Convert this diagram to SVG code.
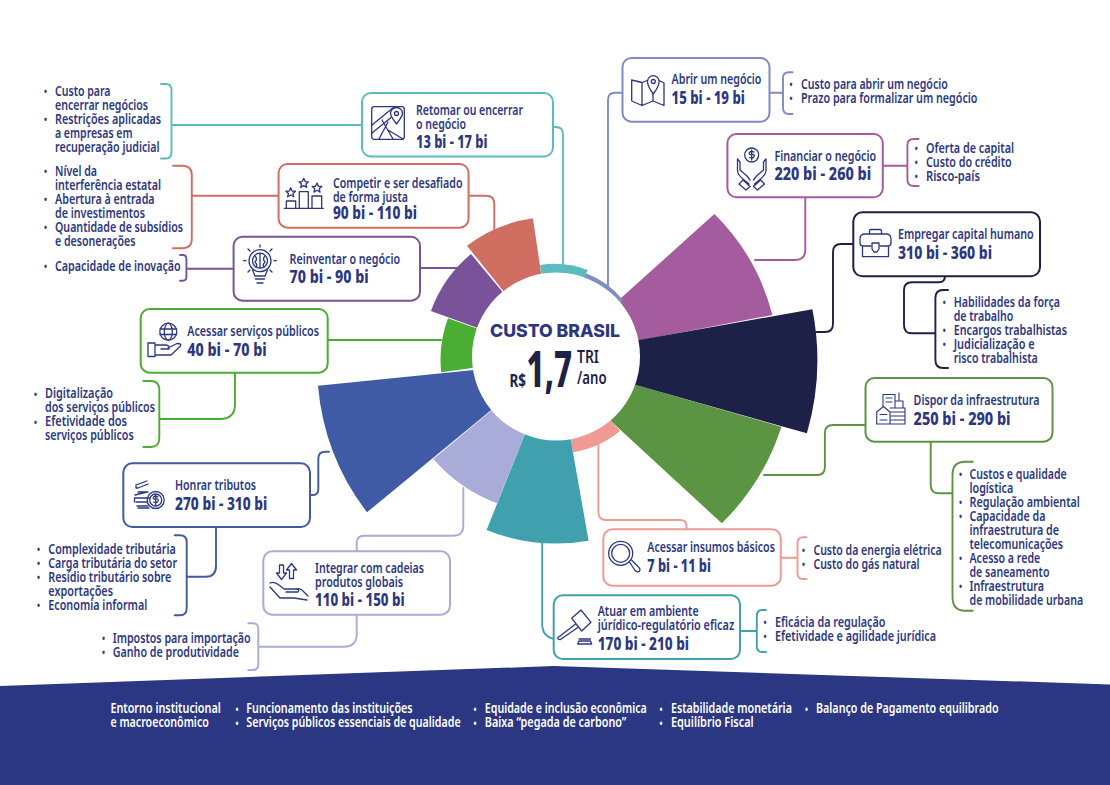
<svg xmlns="http://www.w3.org/2000/svg" width="1110" height="785" viewBox="0 0 1110 785">
<style>
text{font-family:"Noto Sans","Liberation Sans",sans-serif;fill:#2c3783;font-size:14px;font-weight:600}
.v{font-size:18px;font-weight:800}
.b{font-size:10px;font-weight:700}
.f{fill:#fff}
.box{fill:#fff;stroke-width:2}
.c{fill:none;stroke-width:1.9;stroke-linecap:round;stroke-linejoin:round}
.i{fill:none;stroke:#2c3783;stroke-width:1.3;stroke-linejoin:round;stroke-linecap:round}
.d{fill:#1e2147}
</style>
<path d="M0 686L554 666L1110 684.5V785H0Z" fill="#2c3783"/>
<g id="connectors" class="c">
<g stroke="#5bbcc0"><path d="M161 84H166Q171.5 84 171.5 90V152Q171.5 158.5 166 158.5H161M171.5 125H362"/><path d="M553 127H556Q563 127 563 134V266"/></g>
<g stroke="#d16e62"><path d="M173 165.7H182Q191.8 165.7 191.8 175V239Q191.8 248.3 182 248.3H173M191.8 195.7H279"/><path d="M468 195.7H486Q494.3 195.7 494.3 204V232"/></g>
<g stroke="#7a5299"><path d="M180 255H183Q186.4 255 186.4 259V276.5Q186.4 280.7 183 280.7H180M186.4 268.7H234"/><path d="M420 268H462"/></g>
<g stroke="#7f8cc4"><path d="M622 92.7H615Q608 92.7 608 100V288"/><path d="M769 92.7H783M792.6 72.3H789Q783 72.3 783 78V108Q783 114 789 114H792.6"/></g>
<g stroke="#a45c9f"><path d="M883 165.7H907.4M918.6 139H914Q907.4 139 907.4 145V180Q907.4 186 914 186H918.6"/><path d="M805.3 197V250Q805.3 260 795 260H755"/></g>
<g stroke="#1e2147"><path d="M853 244H841Q833 244 833 252V324Q833 332 825 332H816"/><path d="M945 276Q945 282.3 939 282.3H912Q904 282.3 904 290V325Q904 333.3 912 333.3H935.4M948 290H943Q935.4 290 935.4 298V360Q935.4 368 943 368H948"/></g>
<g stroke="#4bad33"><path d="M328 340H441"/><path d="M235 372V404Q235 419 220 419H159.3M143.3 381H151Q159.3 381 159.3 390V438Q159.3 447 151 447H143.3"/></g>
<g stroke="#3f5ba5"><path d="M310 495H313Q318.3 495 318.3 489V459Q318.3 451.7 325 451.7H329"/><path d="M216 527V566Q216 576.7 206 576.7H186.7M174.7 535.3H180Q186.7 535.3 186.7 542V608Q186.7 615.3 180 615.3H174.7"/></g>
<g stroke="#a9acd8"><path d="M356.7 551V543Q356.7 535.7 364 535.7H453Q463.3 535.7 463.3 526V488"/><path d="M356.7 614.7V634Q356.7 646.7 344 646.7H258.3M248.3 623.3H253Q258.3 623.3 258.3 629V664Q258.3 670 253 670H248.3"/></g>
<g stroke="#5b9442"><path d="M865 425H833Q824.9 425 824.9 433V467Q824.9 475 817 475H764"/><path d="M930.7 441.7V485Q930.7 493.3 939 493.3H952.5M972.8 461.7H965Q952.5 461.7 952.5 475V597Q952.5 610.7 965 610.7H972.8"/></g>
<g stroke="#ef9b93"><path d="M686.5 529V526Q686.5 520 680 520H606Q598.4 520 598.4 512V445"/><path d="M781 557.7H797.5M806.7 537.3H803Q797.5 537.3 797.5 543V573Q797.5 579 803 579H806.7"/></g>
<g stroke="#40a0ae"><path d="M542.2 538V624Q542.2 637 555 639"/><path d="M740 631H756.8M766 610H762Q756.8 610 756.8 616V646Q756.8 652 762 652H766"/></g>
</g>
<g id="chart">
<path d="M556 356.5L714.4 214A218 218 0 0 1 772.4 315Z" fill="#a45c9f"/>
<path d="M556 356.5L611.6 421.7L721.8 523.3A236 236 0 0 0 781.4 426.7L636 385Z" fill="#5b9442"/>
<path d="M556 356.5L639 340L812.4 309.3A263 263 0 0 1 806.9 433.3L635.8 385Z" fill="#1e2147"/>
<path d="M556 356.5L611.6 421.7L620.2 430.7A98 98 0 0 1 573 452.3Z" fill="#ef9b93"/>
<path d="M556 356.5L497 503.3A158 158 0 0 1 433.3 459Z" fill="#a9acd8"/>
<path d="M556 356.5L588.6 540.7A187 187 0 0 1 486.6 530Z" fill="#40a0ae"/>
<path d="M556 356.5L441.2 372.3A118 118 0 0 1 448 318.3Z" fill="#4bad33"/>
<path d="M556 356.5L367 512.3A243 243 0 0 1 318 385.7L473.9 370Z" fill="#3f5ba5"/>
<path d="M556 356.5L430.9 311A133 133 0 0 1 471 254Z" fill="#7a5299"/>
<path d="M556 356.5L623 300A87.6 87.6 0 0 0 585.8 273.3Z" fill="#7f8cc4"/>
<path d="M556 356.5L467 245.7A142 142 0 0 1 532.9 218.3L541 272.3Z" fill="#d16e62"/>
<path d="M556 356.5L540 265A93 93 0 0 1 587.5 270Z" fill="#5bbcc0"/>
<circle cx="556" cy="356.5" r="84" fill="#fff"/>
<text x="490" y="336.7" textLength="130" lengthAdjust="spacingAndGlyphs" style="font-family:Inter,'Liberation Sans',sans-serif;font-size:17.5px;font-weight:800">CUSTO BRASIL</text>
<text transform="translate(509.4 0) scale(.7 1)" x="0" y="387.3" textLength="23.6" lengthAdjust="spacingAndGlyphs" class="d" style="font-size:17px;font-weight:700">R$</text>
<text transform="translate(526.6 0) scale(.65 1)" x="0" y="386.7" textLength="70" lengthAdjust="spacingAndGlyphs" class="d" style="font-size:50px;font-weight:800">1,7</text>
<text transform="translate(577 0) scale(.8 1)" class="d" style="font-size:18px;font-weight:600"><tspan x="0" y="362.7" textLength="27.5" lengthAdjust="spacingAndGlyphs">TRI</tspan><tspan x="0" y="384" textLength="36.9" lengthAdjust="spacingAndGlyphs">/ano</tspan></text>
</g>
<g id="node-retomar">
<rect class="box" x="362" y="93" width="191" height="63.5" rx="9" stroke="#5bbcc0"/>
<g class="i"><rect x="371.7" y="106.7" width="32.6" height="32.6" rx="2.5"/><path d="M372 125L394 107M372 133L399 111M379 139L388 122M393 139L382 120M388 130L403 139"/><path d="M396.5 124C392 118 390.5 116 390.5 113.5A6 6 0 0 1 402.5 113.5C402.5 116 401 118 396.5 124Z" fill="#fff"/><circle cx="396.5" cy="113.5" r="2"/></g>
<text transform="translate(416 0) scale(.8 1)"><tspan x="0" y="115" textLength="133.75" lengthAdjust="spacingAndGlyphs">Retomar ou encerrar</tspan><tspan x="0" y="129" textLength="62.5" lengthAdjust="spacingAndGlyphs">o negócio</tspan><tspan class="v" x="0" y="147.7" textLength="89.4" lengthAdjust="spacingAndGlyphs">13 bi - 17 bi</tspan></text>
<text transform="translate(55 0) scale(.8 1)"><tspan class="b" x="-13.75" y="95">•</tspan><tspan x="0" y="95.7" textLength="69.4" lengthAdjust="spacingAndGlyphs">Custo para</tspan><tspan x="0" y="109.7" textLength="116.25" lengthAdjust="spacingAndGlyphs">encerrar negócios</tspan><tspan class="b" x="-13.75" y="123">•</tspan><tspan x="0" y="123.7" textLength="132.5" lengthAdjust="spacingAndGlyphs">Restrições aplicadas</tspan><tspan x="0" y="137.7" textLength="96.9" lengthAdjust="spacingAndGlyphs">a empresas em</tspan><tspan x="0" y="151.7" textLength="130.75" lengthAdjust="spacingAndGlyphs">recuperação judicial</tspan></text>
</g>
<g id="node-competir">
<rect class="box" x="278.6" y="164" width="190" height="63.7" rx="9" stroke="#d16e62"/>
<g class="i"><path d="M284.3 208.3H323.3M286.3 208V201H295.7V208M299.3 208V191.7H308.3V208M312 208V196H321.7V208"/><path d="M290.7 187.7L292.1 191L295.5 191.2L292.9 193.4L293.8 196.8L290.7 195L287.6 196.8L288.5 193.4L285.9 191.2L289.3 191Z"/><path d="M303.7 178.3L305.1 181.6L308.5 181.8L305.9 184L306.8 187.4L303.7 185.6L300.6 187.4L301.5 184L298.9 181.8L302.3 181.6Z"/><path d="M317 183L318.4 186.3L321.8 186.5L319.2 188.7L320.1 192.1L317 190.3L313.9 192.1L314.8 188.7L312.2 186.5L315.6 186.3Z"/></g>
<text transform="translate(332.9 0) scale(.8 1)"><tspan x="0" y="188" textLength="162" lengthAdjust="spacingAndGlyphs">Competir e ser desafiado</tspan><tspan x="0" y="202" textLength="93.75" lengthAdjust="spacingAndGlyphs">de forma justa</tspan><tspan class="v" x="0" y="218.7" textLength="105" lengthAdjust="spacingAndGlyphs">90 bi - 110 bi</tspan></text>
<text transform="translate(55 0) scale(.8 1)"><tspan class="b" x="-13.75" y="175">•</tspan><tspan x="0" y="175.7" textLength="52.5" lengthAdjust="spacingAndGlyphs">Nível da</tspan><tspan x="0" y="189.7" textLength="132.5" lengthAdjust="spacingAndGlyphs">interferência estatal</tspan><tspan class="b" x="-13.75" y="203">•</tspan><tspan x="0" y="203.7" textLength="124.5" lengthAdjust="spacingAndGlyphs">Abertura à entrada</tspan><tspan x="0" y="217.7" textLength="112.5" lengthAdjust="spacingAndGlyphs">de investimentos</tspan><tspan class="b" x="-13.75" y="231">•</tspan><tspan x="0" y="231.7" textLength="160" lengthAdjust="spacingAndGlyphs">Quantidade de subsídios</tspan><tspan x="0" y="245.7" textLength="100.5" lengthAdjust="spacingAndGlyphs">e desonerações</tspan></text>
</g>
<g id="node-reinventar">
<rect class="box" x="233.6" y="236.7" width="186.4" height="64" rx="9" stroke="#7a5299"/>
<g class="i"><circle cx="260" cy="260.7" r="11"/><circle cx="260" cy="260.7" r="7.5"/><path d="M260 253.5V268M255 256Q258 259 255 262Q258 265 256 267M265 256Q262 259 265 262Q262 265 264 267M252.5 270L255 276H265L267.5 270M255.5 279H264.5M257 283H263"/><path d="M260 245V247M248 249L250 251M272 249L270 251M243.5 260.7H246M274 260.7H276.5M248 272L250 270M272 272L270 270"/></g>
<text transform="translate(289.6 0) scale(.8 1)"><tspan x="0" y="264" textLength="138" lengthAdjust="spacingAndGlyphs">Reinventar o negócio</tspan><tspan class="v" x="0" y="283.3" textLength="98.75" lengthAdjust="spacingAndGlyphs">70 bi - 90 bi</tspan></text>
<text transform="translate(55 0) scale(.8 1)"><tspan class="b" x="-13.75" y="270">•</tspan><tspan x="0" y="270.7" textLength="157.1" lengthAdjust="spacingAndGlyphs">Capacidade de inovação</tspan></text>
</g>
<g id="node-abrir">
<rect class="box" x="622.5" y="58" width="147" height="63.7" rx="9" stroke="#7f8cc4"/>
<g class="i"><path d="M631.7 80V101L642 105.5L653 101L664 105.5V83L659 80.5M647 80.5L642 82.5L631.7 80M642 82.5V105.5M653 92V101"/><path d="M653.3 94C648 87 647.5 84 647.5 81.5A5.8 5.8 0 0 1 659.1 81.5C659.1 84 658.5 87 653.3 94Z" fill="#fff"/><circle cx="653.3" cy="81.5" r="2"/></g>
<text transform="translate(671.6 0) scale(.8 1)"><tspan x="0" y="84.3" textLength="112.25" lengthAdjust="spacingAndGlyphs">Abrir um negócio</tspan><tspan class="v" x="0" y="104" textLength="91.6" lengthAdjust="spacingAndGlyphs">15 bi - 19 bi</tspan></text>
<text transform="translate(801 0) scale(.8 1)"><tspan class="b" x="-14.4" y="88">•</tspan><tspan x="0" y="89" textLength="183.4" lengthAdjust="spacingAndGlyphs">Custo para abrir um negócio</tspan><tspan class="b" x="-14.4" y="102">•</tspan><tspan x="0" y="103" textLength="220.6" lengthAdjust="spacingAndGlyphs">Prazo para formalizar um negócio</tspan></text>
</g>
<g id="node-financiar">
<rect class="box" x="727.4" y="134" width="155.4" height="63.3" rx="9" stroke="#a45c9f"/>
<g class="i"><circle cx="751.7" cy="155" r="7"/><path d="M749.5 157.5Q753 159 754 156.5T751.7 154.5T749.5 152.5Q751 150.5 754 152M751.7 150V160M737.5 159V171Q738 175 743 179L749 184M737.5 159L740 162V170L747 176L750 180M766 159V171Q765.5 175 760.5 179L754.5 184M766 159L763.5 162V170L756.5 176L753.5 180M743 180L750 186.5L746 190L739 184ZM760.5 180L753.5 186.5L757.5 190L764.5 184Z"/></g>
<text transform="translate(774.4 0) scale(.8 1)"><tspan x="0" y="160.7" textLength="127.1" lengthAdjust="spacingAndGlyphs">Financiar o negócio</tspan><tspan class="v" x="0" y="180.3" textLength="121" lengthAdjust="spacingAndGlyphs">220 bi - 260 bi</tspan></text>
<text transform="translate(926 0) scale(.8 1)"><tspan class="b" x="-14" y="152">•</tspan><tspan x="0" y="152.7" textLength="110" lengthAdjust="spacingAndGlyphs">Oferta de capital</tspan><tspan class="b" x="-14" y="166">•</tspan><tspan x="0" y="166.7" textLength="107" lengthAdjust="spacingAndGlyphs">Custo do crédito</tspan><tspan class="b" x="-14" y="180">•</tspan><tspan x="0" y="180.7" textLength="67.5" lengthAdjust="spacingAndGlyphs">Risco-país</tspan></text>
</g>
<g id="node-empregar">
<rect class="box" x="853.3" y="212.3" width="186.7" height="64" rx="9" stroke="#1e2147"/>
<g class="i"><path d="M860 239Q860 234 865 234H886Q891 234 891 239V243Q891 246 888 246H880M860 239V243Q860 246 863 246H871M862.5 246V256.7H888.5V246M869.5 234V231Q869.5 229.5 871 229.5H880Q881.5 229.5 881.5 231V234"/><path d="M872 243H879V249L877 252H874L872 249Z"/></g>
<text transform="translate(898 0) scale(.8 1)"><tspan x="0" y="239.3" textLength="169.6" lengthAdjust="spacingAndGlyphs">Empregar capital humano</tspan><tspan class="v" x="0" y="259" textLength="117.5" lengthAdjust="spacingAndGlyphs">310 bi - 360 bi</tspan></text>
<text transform="translate(953.7 0) scale(.8 1)"><tspan class="b" x="-13.6" y="306">•</tspan><tspan x="0" y="306.7" textLength="132.9" lengthAdjust="spacingAndGlyphs">Habilidades da força</tspan><tspan x="0" y="320.7" textLength="74.5" lengthAdjust="spacingAndGlyphs">de trabalho</tspan><tspan class="b" x="-13.6" y="334">•</tspan><tspan x="0" y="334.7" textLength="141.6" lengthAdjust="spacingAndGlyphs">Encargos trabalhistas</tspan><tspan class="b" x="-13.6" y="348">•</tspan><tspan x="0" y="348.7" textLength="101.25" lengthAdjust="spacingAndGlyphs">Judicialização e</tspan><tspan x="0" y="362.7" textLength="105" lengthAdjust="spacingAndGlyphs">risco trabalhista</tspan></text>
</g>
<g id="node-acessar-servicos">
<rect class="box" x="140.7" y="309" width="187" height="63.7" rx="9" stroke="#4bad33"/>
<g class="i"><circle cx="168.3" cy="331.7" r="8.5"/><ellipse cx="168.3" cy="331.7" rx="4" ry="8.5"/><path d="M160 329H176.6M160 334.5H176.6M148 343H155V356.5H148ZM155 345H165Q170 345 169 349H161M168 348L177 343.5Q182 343.5 180.5 346L171 355H155"/></g>
<text transform="translate(187.3 0) scale(.8 1)"><tspan x="0" y="336" textLength="164.6" lengthAdjust="spacingAndGlyphs">Acessar serviços públicos</tspan><tspan class="v" x="0" y="355.7" textLength="99.25" lengthAdjust="spacingAndGlyphs">40 bi - 70 bi</tspan></text>
<text transform="translate(45 0) scale(.8 1)"><tspan class="b" x="-13.75" y="398">•</tspan><tspan x="0" y="398.3" textLength="85" lengthAdjust="spacingAndGlyphs">Digitalização</tspan><tspan x="0" y="412.3" textLength="137.5" lengthAdjust="spacingAndGlyphs">dos serviços públicos</tspan><tspan class="b" x="-13.75" y="426">•</tspan><tspan x="0" y="426.3" textLength="102.5" lengthAdjust="spacingAndGlyphs">Efetividade dos</tspan><tspan x="0" y="440.3" textLength="110.9" lengthAdjust="spacingAndGlyphs">serviços públicos</tspan></text>
</g>
<g id="node-honrar">
<rect class="box" x="123.3" y="463.3" width="186.7" height="63.7" rx="9" stroke="#3f5ba5"/>
<g class="i"><circle cx="155.7" cy="500" r="8.5"/><circle cx="155.7" cy="500" r="6"/><path d="M135 495L147 492M135 498H150M136 502H147M134.5 498V502M137 506H148M138 488L148 484M136 485L147 481M136 485V488L138 488M138 492H148M138 508H149"/><path d="M153.5 502Q157 503.5 158 501T155.7 499T153.5 497Q155 495.5 158 497M155.7 495V505"/></g>
<text transform="translate(175 0) scale(.8 1)"><tspan x="0" y="490" textLength="101.25" lengthAdjust="spacingAndGlyphs">Honrar tributos</tspan><tspan class="v" x="0" y="509.7" textLength="115.4" lengthAdjust="spacingAndGlyphs">270 bi - 310 bi</tspan></text>
<text transform="translate(48.3 0) scale(.8 1)"><tspan class="b" x="-14.1" y="553">•</tspan><tspan x="0" y="554" textLength="159.25" lengthAdjust="spacingAndGlyphs">Complexidade tributária</tspan><tspan class="b" x="-14.1" y="567">•</tspan><tspan x="0" y="568" textLength="160.9" lengthAdjust="spacingAndGlyphs">Carga tributária do setor</tspan><tspan class="b" x="-14.1" y="581">•</tspan><tspan x="0" y="582" textLength="153.75" lengthAdjust="spacingAndGlyphs">Resídio tributário sobre</tspan><tspan x="0" y="596" textLength="80.9" lengthAdjust="spacingAndGlyphs">exportações</tspan><tspan class="b" x="-14.1" y="609">•</tspan><tspan x="0" y="610" textLength="123.75" lengthAdjust="spacingAndGlyphs">Economia informal</tspan></text>
</g>
<g id="node-integrar">
<rect class="box" x="263.3" y="551.3" width="186.7" height="63.4" rx="9" stroke="#a9acd8"/>
<g class="i"><path d="M279.5 565V573H276.5L281.5 579.5L286.5 573H283.5V565ZM289.5 578.5V570H286.5L291.5 563.5L296.5 570H293.5V578.5Z"/><path d="M270 583Q274 581 279 585L284 589H296Q300 589 298 592H286M296 589.5Q300 587 304 592L308 596M270 587L280 598H294L307 600"/></g>
<text transform="translate(315 0) scale(.8 1)"><tspan x="0" y="572.7" textLength="136.25" lengthAdjust="spacingAndGlyphs">Integrar com cadeias</tspan><tspan x="0" y="586.7" textLength="110" lengthAdjust="spacingAndGlyphs">produtos globais</tspan><tspan class="v" x="0" y="606" textLength="112.1" lengthAdjust="spacingAndGlyphs">110 bi - 150 bi</tspan></text>
<text transform="translate(112.7 0) scale(.8 1)"><tspan class="b" x="-13.4" y="642">•</tspan><tspan x="0" y="642.7" textLength="172.5" lengthAdjust="spacingAndGlyphs">Impostos para importação</tspan><tspan class="b" x="-13.4" y="656">•</tspan><tspan x="0" y="656.7" textLength="157.9" lengthAdjust="spacingAndGlyphs">Ganho de produtividade</tspan></text>
</g>
<g id="node-dispor">
<rect class="box" x="865.5" y="378" width="187" height="63.7" rx="9" stroke="#5b9442"/>
<g class="i" style="stroke-width:1.1"><path d="M883 406V394.5H895V401M876.7 424V412L883.5 406.5L890 412V424ZM876.7 424H905M890 408H905V424M890 412H905M890 416H905M890 420H905M895 408V401H903V408M899 401V393M886 398H892M886 402H892M880 414.5H887M880 420H887"/></g>
<text transform="translate(913.6 0) scale(.8 1)"><tspan x="0" y="405" textLength="157.25" lengthAdjust="spacingAndGlyphs">Dispor da infraestrutura</tspan><tspan class="v" x="0" y="424.7" textLength="121.25" lengthAdjust="spacingAndGlyphs">250 bi - 290 bi</tspan></text>
<text transform="translate(969.5 0) scale(.8 1)"><tspan class="b" x="-13.1" y="478">•</tspan><tspan x="0" y="479" textLength="121.6" lengthAdjust="spacingAndGlyphs">Custos e qualidade</tspan><tspan x="0" y="493" textLength="54.6" lengthAdjust="spacingAndGlyphs">logística</tspan><tspan class="b" x="-13.1" y="506">•</tspan><tspan x="0" y="507" textLength="137.9" lengthAdjust="spacingAndGlyphs">Regulação ambiental</tspan><tspan class="b" x="-13.1" y="520">•</tspan><tspan x="0" y="521" textLength="94.9" lengthAdjust="spacingAndGlyphs">Capacidade da</tspan><tspan x="0" y="535" textLength="111.9" lengthAdjust="spacingAndGlyphs">infraestrutura de</tspan><tspan x="0" y="549" textLength="117" lengthAdjust="spacingAndGlyphs">telecomunicações</tspan><tspan class="b" x="-13.1" y="562">•</tspan><tspan x="0" y="563" textLength="88.4" lengthAdjust="spacingAndGlyphs">Acesso a rede</tspan><tspan x="0" y="577" textLength="99.9" lengthAdjust="spacingAndGlyphs">de saneamento</tspan><tspan class="b" x="-13.1" y="590">•</tspan><tspan x="0" y="591" textLength="93" lengthAdjust="spacingAndGlyphs">Infraestrutura</tspan><tspan x="0" y="605" textLength="142" lengthAdjust="spacingAndGlyphs">de mobilidade urbana</tspan></text>
</g>
<g id="node-insumos">
<rect class="box" x="603.3" y="529.3" width="177.5" height="56.4" rx="9" stroke="#ef9b93"/>
<g class="i"><circle cx="620.7" cy="553.3" r="12"/><circle cx="620.7" cy="553.3" r="9"/><path d="M629.5 562L635 570.5Q638 573 639.5 571Q641 569 638 566.5L631.5 560"/></g>
<text transform="translate(647.3 0) scale(.8 1)"><tspan x="0" y="552.3" textLength="159.5" lengthAdjust="spacingAndGlyphs">Acessar insumos básicos</tspan><tspan class="v" x="0" y="572" textLength="79.5" lengthAdjust="spacingAndGlyphs">7 bi - 11 bi</tspan></text>
<text transform="translate(813.4 0) scale(.8 1)"><tspan class="b" x="-14.25" y="554">•</tspan><tspan x="0" y="555" textLength="160.5" lengthAdjust="spacingAndGlyphs">Custo da energia elétrica</tspan><tspan class="b" x="-14.25" y="568">•</tspan><tspan x="0" y="569" textLength="132.75" lengthAdjust="spacingAndGlyphs">Custo do gás natural</tspan></text>
</g>
<g id="node-atuar">
<rect class="box" x="553.7" y="595.3" width="186.3" height="63.7" rx="9" stroke="#40a0ae"/>
<g class="i"><path d="M581 610L571.7 618.3L581.7 631L591 622.3ZM575.7 624L557.7 637.7Q558 640 560.5 639.5L578.5 627M579 639H590.5M577.7 644H591.7L590.5 641H579Z"/></g>
<text transform="translate(597.7 0) scale(.8 1)"><tspan x="0" y="616" textLength="126.25" lengthAdjust="spacingAndGlyphs">Atuar em ambiente</tspan><tspan x="0" y="630" textLength="170.6" lengthAdjust="spacingAndGlyphs">júrídico-regulatório eficaz</tspan><tspan class="v" x="0" y="650" textLength="114.25" lengthAdjust="spacingAndGlyphs">170 bi - 210 bi</tspan></text>
<text transform="translate(775 0) scale(.8 1)"><tspan class="b" x="-14.4" y="626">•</tspan><tspan x="0" y="626.7" textLength="138.1" lengthAdjust="spacingAndGlyphs">Eficácia da regulação</tspan><tspan class="b" x="-14.4" y="640">•</tspan><tspan x="0" y="640.7" textLength="201.25" lengthAdjust="spacingAndGlyphs">Efetividade e agilidade jurídica</tspan></text>
</g>
<g id="footer">
<text class="f" transform="translate(110.4 0) scale(.8 1)"><tspan class="f" x="0" y="713.3" textLength="138" lengthAdjust="spacingAndGlyphs">Entorno institucional</tspan><tspan class="f" x="0" y="727.3" textLength="123" lengthAdjust="spacingAndGlyphs">e macroeconômico</tspan></text>
<text class="f" transform="translate(246.3 0) scale(.8 1)"><tspan class="b f" x="-13.5" y="713">•</tspan><tspan x="0" y="713.3" textLength="207.9" lengthAdjust="spacingAndGlyphs">Funcionamento das instituições</tspan><tspan class="b f" x="-13.5" y="727">•</tspan><tspan x="0" y="727.3" textLength="268" lengthAdjust="spacingAndGlyphs">Serviços públicos essenciais de qualidade</tspan></text>
<text class="f" transform="translate(484.8 0) scale(.8 1)"><tspan class="b f" x="-14.1" y="713">•</tspan><tspan x="0" y="713.3" textLength="202.5" lengthAdjust="spacingAndGlyphs">Equidade e inclusão econômica</tspan><tspan class="b f" x="-14.1" y="727">•</tspan><tspan x="0" y="727.3" textLength="176.9" lengthAdjust="spacingAndGlyphs">Baixa “pegada de carbono”</tspan></text>
<text class="f" transform="translate(670.9 0) scale(.8 1)"><tspan class="b f" x="-14.25" y="713">•</tspan><tspan x="0" y="713.3" textLength="151.25" lengthAdjust="spacingAndGlyphs">Estabilidade monetária</tspan><tspan class="b f" x="-14.25" y="727">•</tspan><tspan x="0" y="727.3" textLength="103.5" lengthAdjust="spacingAndGlyphs">Equilíbrio Fiscal</tspan></text>
<text class="f" transform="translate(816 0) scale(.8 1)"><tspan class="b f" x="-13.75" y="713">•</tspan><tspan x="0" y="713.3" textLength="228.25" lengthAdjust="spacingAndGlyphs">Balanço de Pagamento equilibrado</tspan></text>
</g>
</svg>
